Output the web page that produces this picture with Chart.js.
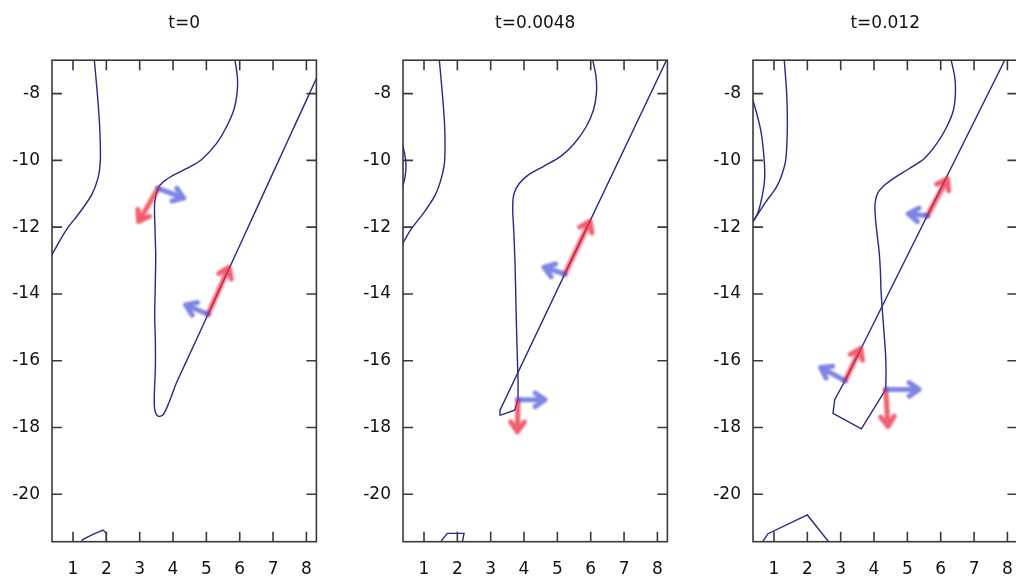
<!DOCTYPE html>
<html lang="en">
<head>
<meta charset="UTF-8">
<title>Interface snapshots</title>
<script src="https://cdn.jsdelivr.net/npm/chart.js@4"></script>
<style>
  body { margin: 0; width: 1016px; height: 580px; overflow: hidden; background: #fff; }
  .panel { position: absolute; top: 0; }
</style>
</head>
<body>
<div class="panel" style="left:0.3px"><canvas id="c0" width="335" height="580"></canvas></div>
<div class="panel" style="left:351.3px"><canvas id="c1" width="335" height="580"></canvas></div>
<div class="panel" style="left:701.3px"><canvas id="c2" width="335" height="580"></canvas></div>

<script>
// titles and axis limits
const titles = ['t=0', 't=0.0048', 't=0.012'];
const xMin = 0.37, xMax = 8.3;
const yMin = -21.42, yMax = -7;

// t=0 contours [x, y]
const t0_left = [[1.63,-6.9],[1.73,-8.0],[1.8,-9.0],[1.82,-10.0],[1.75,-10.53],[1.55,-11.05],[1.2,-11.56],[0.8,-12.08],[0.5,-12.59],[0.3,-12.95]];
const t0_main = [[5.84,-6.9],[5.93,-7.5],[5.92,-8.0],[5.82,-8.5],[5.6,-9.0],[5.3,-9.5],[4.85,-9.98],[4.4,-10.25],[4.0,-10.45],[3.7,-10.65],[3.55,-10.84],[3.45,-11.25],[3.46,-12.08],[3.48,-12.8],[3.47,-13.62],[3.45,-14.65],[3.47,-15.4],[3.47,-16.2],[3.44,-17.0],[3.45,-17.45],[3.55,-17.66],[3.7,-17.62],[3.88,-17.25],[4.1,-16.67],[4.4,-16.02],[4.7,-15.37],[5.05,-14.61],[5.7,-13.2],[6.5,-11.46],[7.4,-9.5],[8.05,-8.09],[8.45,-7.22]];
const t0_bottom = [[1.1,-21.6],[1.3,-21.35],[1.6,-21.2],[1.9,-21.07],[2.0,-21.17],[2.0,-21.6]];

// t=0.0048 contours
const t1_left = [[1.45,-6.9],[1.55,-8.0],[1.62,-9.0],[1.62,-10.0],[1.52,-10.53],[1.33,-11.05],[1.0,-11.56],[0.6,-12.08],[0.3,-12.6]];
const t1_edge = [[0.32,-9.4],[0.42,-9.8],[0.46,-10.15],[0.43,-10.5],[0.33,-10.9]];
const t1_main = [[6.04,-6.9],[6.16,-7.5],[6.17,-8.0],[6.08,-8.5],[5.86,-9.0],[5.5,-9.5],[5.1,-9.88],[4.6,-10.17],[4.15,-10.42],[3.85,-10.7],[3.7,-11.0],[3.66,-11.4],[3.69,-12.08],[3.73,-13.1],[3.76,-14.4],[3.79,-15.6],[3.82,-16.6],[3.82,-17.17]];
const t1_kink = [[3.82,-17.17],[3.72,-17.48],[3.3,-17.63],[3.28,-17.48],[8.32,-6.9]];
const t1_bottom = [[1.4,-21.6],[1.55,-21.35],[1.7,-21.17],[2.2,-21.17],[2.12,-21.6]];

// t=0.012 contours
const t2_left = [[1.3,-6.9],[1.38,-8.0],[1.4,-9.0],[1.35,-10.0],[1.2,-10.53],[1.05,-10.84],[0.75,-11.25],[0.55,-11.56],[0.38,-11.82]];
const t2_edge = [[0.3,-8.0],[0.4,-8.3],[0.6,-9.09],[0.7,-9.91],[0.72,-10.53],[0.65,-11.05],[0.52,-11.56],[0.38,-11.82]];
const t2_main = [[6.29,-6.9],[6.42,-7.5],[6.44,-8.0],[6.38,-8.5],[6.18,-9.0],[5.88,-9.5],[5.5,-9.95],[5.05,-10.25],[4.6,-10.53],[4.27,-10.78],[4.1,-11.0],[4.03,-11.3],[4.04,-11.7],[4.09,-12.2],[4.15,-12.7],[4.19,-13.3],[4.21,-13.9],[4.25,-14.5],[4.3,-15.16],[4.35,-15.88],[4.36,-16.4],[4.35,-16.86]];
const t2_kink = [[4.35,-16.86],[3.62,-18.04],[2.77,-17.58],[2.82,-17.17],[3.13,-16.6],[7.97,-6.9]];
const t2_bottom = [[0.54,-21.6],[0.82,-21.18],[2.0,-20.62],[2.78,-21.6]];

// arrows [x0, y0, x1, y1]: red = tangent, blue = normal
const t0_red  = [[3.55,-10.84, 2.97,-11.83],[5.05,-14.61, 5.68,-13.2]];
const t0_blue = [[3.55,-10.84, 4.32,-11.13],[5.05,-14.61, 4.38,-14.33]];
const t1_red  = [[5.22,-13.41, 5.98,-11.82],[3.82,-17.17, 3.8,-18.13]];
const t1_blue = [[5.22,-13.41, 4.6,-13.2],[3.82,-17.17, 4.63,-17.17]];
const t2_red  = [[5.6,-11.66, 6.2,-10.55],[3.13,-16.6, 3.6,-15.63],[4.35,-16.86, 4.42,-17.97]];
const t2_blue = [[5.6,-11.66, 5.03,-11.6],[3.13,-16.6, 2.4,-16.2],[4.35,-16.86, 5.35,-16.86]];

const panels = [
  { id: 'c0', smooth: [t0_left, t0_main], sharp: [t0_bottom], red: t0_red, blue: t0_blue },
  { id: 'c1', smooth: [t1_left, t1_edge, t1_main], sharp: [t1_kink, t1_bottom], red: t1_red, blue: t1_blue },
  { id: 'c2', smooth: [t2_left, t2_edge, t2_main], sharp: [t2_kink, t2_bottom], red: t2_red, blue: t2_blue }
];

Chart.defaults.font.family = "'DejaVu Sans', Verdana, sans-serif";
Chart.defaults.font.size = 17;
Chart.defaults.color = '#111';

// box with inward ticks on all four sides
const framePlugin = {
  id: 'frame',
  afterDraw(chart) {
    const { ctx, chartArea: a, scales: { x, y } } = chart;
    ctx.save();
    ctx.strokeStyle = '#3a3a3a';
    ctx.lineWidth = 1.6;
    ctx.strokeRect(a.left, a.top, a.width, a.height);
    ctx.beginPath();
    x.ticks.forEach(t => {
      const px = x.getPixelForValue(t.value);
      ctx.moveTo(px, a.bottom); ctx.lineTo(px, a.bottom - 10);
      ctx.moveTo(px, a.top); ctx.lineTo(px, a.top + 10);
    });
    y.ticks.forEach(t => {
      const py = y.getPixelForValue(t.value);
      ctx.moveTo(a.left, py); ctx.lineTo(a.left + 10, py);
      ctx.moveTo(a.right, py); ctx.lineTo(a.right - 10, py);
    });
    ctx.stroke();
    ctx.restore();
  }
};

// soft thick arrows drawn through the chart scales
function drawArrow(chart, arr, color) {
  const { ctx, scales: { x, y } } = chart;
  const x0 = x.getPixelForValue(arr[0]), y0 = y.getPixelForValue(arr[1]);
  const x1 = x.getPixelForValue(arr[2]), y1 = y.getPixelForValue(arr[3]);
  const ang = Math.atan2(y1 - y0, x1 - x0);
  const head = 12, spread = 0.6;
  ctx.strokeStyle = color;
  ctx.beginPath();
  ctx.moveTo(x0, y0); ctx.lineTo(x1, y1);
  ctx.moveTo(x1 - head * Math.cos(ang - spread), y1 - head * Math.sin(ang - spread));
  ctx.lineTo(x1, y1);
  ctx.lineTo(x1 - head * Math.cos(ang + spread), y1 - head * Math.sin(ang + spread));
  ctx.stroke();
}

const arrowPlugin = {
  id: 'arrows',
  afterDatasetsDraw(chart, args, opts) {
    const ctx = chart.ctx;
    ctx.save();
    ctx.filter = 'blur(0.9px)';
    ctx.lineWidth = 5;
    ctx.lineCap = 'round';
    ctx.lineJoin = 'round';
    opts.red.forEach(a => drawArrow(chart, a, 'rgba(238,40,60,0.75)'));
    opts.blue.forEach(a => drawArrow(chart, a, 'rgba(70,80,215,0.7)'));
    ctx.restore();
  }
};

const toPts = arr => arr.map(p => ({ x: p[0], y: p[1] }));

panels.forEach((p, i) => {
  const datasets = [];
  p.smooth.forEach(c => datasets.push({ data: toPts(c), tension: 0.3 }));
  p.sharp.forEach(c => datasets.push({ data: toPts(c), tension: 0 }));
  datasets.forEach(d => Object.assign(d, {
    showLine: true, borderColor: '#262a80', borderWidth: 1.4, pointRadius: 0, fill: false
  }));

  new Chart(document.getElementById(p.id), {
    type: 'scatter',
    data: { datasets },
    options: {
      responsive: false,
      animation: false,
      devicePixelRatio: 1,
      layout: { padding: { right: 18.6 } },
      plugins: {
        legend: { display: false },
        tooltip: { enabled: false },
        title: {
          display: true, text: titles[i], fullSize: false, color: '#111',
          font: { size: 17, weight: 'normal' }, padding: { top: 13, bottom: 26.8 }
        },
        arrows: { red: p.red, blue: p.blue }
      },
      scales: {
        x: {
          type: 'linear', min: xMin, max: xMax,
          grid: { display: false, drawTicks: false }, border: { display: false },
          ticks: { stepSize: 1, includeBounds: false, autoSkip: false, maxRotation: 0, padding: 18 },
          afterFit: s => { s.height = 38.3; }
        },
        y: {
          type: 'linear', min: yMin, max: yMax,
          grid: { display: false, drawTicks: false }, border: { display: false },
          ticks: { stepSize: 2, includeBounds: false, autoSkip: false, padding: 12 },
          afterFit: s => { s.width = 52; }
        }
      }
    },
    plugins: [framePlugin, arrowPlugin]
  });
});
</script>
</body>
</html>
